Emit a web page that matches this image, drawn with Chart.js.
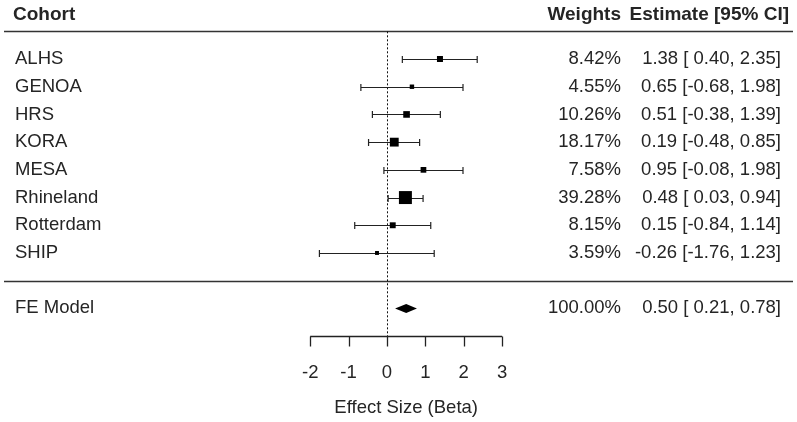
<!DOCTYPE html>
<html>
<head>
<meta charset="utf-8">
<script src="https://cdn.jsdelivr.net/npm/chart.js@4.4.1/dist/chart.umd.min.js"></script>
<style>
  html, body { margin: 0; padding: 0; background: #fff; }
  canvas { display: block; }
</style>
</head>
<body>
<canvas id="forest" width="797" height="422"></canvas>
<script>
// cohort data, top to bottom
const cohorts = ['ALHS', 'GENOA', 'HRS', 'KORA', 'MESA', 'Rhineland', 'Rotterdam', 'SHIP'];
const weights = [8.42, 4.55, 10.26, 18.17, 7.58, 39.28, 8.15, 3.59];
const estimates = [1.38, 0.65, 0.51, 0.19, 0.95, 0.48, 0.15, -0.26];
const ciLower = [0.40, -0.68, -0.38, -0.48, -0.08, 0.03, -0.84, -1.76];
const ciUpper = [2.35, 1.98, 1.39, 0.85, 1.98, 0.94, 1.14, 1.23];

// pooled fixed-effect model
const modelLabel = 'FE Model';
const modelWeight = 100.00;
const modelEstimate = 0.50;
const modelLower = 0.21;
const modelUpper = 0.78;

const xTicks = [-2, -1, 0, 1, 2, 3];
const xTitle = 'Effect Size (Beta)';

// rows: first cohort at k, last at 1, model at -1
const k = cohorts.length;
const rows = cohorts.map((c, i) => k - i);
const modelRow = -1;
const headerRow = k + 1;
const axisRow = -2;

const FONT = '"Liberation Sans", Arial, sans-serif';
const INK = '#252525';

function fmt(v) {
    const s = v.toFixed(2);
    return v < 0 ? s : ' ' + s;
}
function estText(e, lo, hi) {
    return e.toFixed(2) + ' [' + fmt(lo) + ', ' + hi.toFixed(2) + ']';
}

// square size grows with sqrt(weight)
const sides = weights.map(w => 2.07 * Math.sqrt(w));

const forestPlugin = {
    id: 'forest',
    beforeDatasetsDraw(chart) {
        const ctx = chart.ctx;
        const xs = chart.scales.x, ys = chart.scales.y;
        const X = v => xs.getPixelForValue(v);
        const Y = v => ys.getPixelForValue(v);
        ctx.save();

        // header and separator lines
        ctx.strokeStyle = '#333';
        ctx.lineWidth = 1.4;
        [headerRow, 0].forEach(r => {
            ctx.beginPath();
            ctx.moveTo(4, Math.round(Y(r)) + 0.5);
            ctx.lineTo(793, Math.round(Y(r)) + 0.5);
            ctx.stroke();
        });

        // reference line at zero
        ctx.strokeStyle = '#111';
        ctx.lineWidth = 1;
        ctx.setLineDash([2, 2]);
        ctx.beginPath();
        ctx.moveTo(Math.round(X(0)) + 0.5, Y(headerRow));
        ctx.lineTo(Math.round(X(0)) + 0.5, Y(axisRow));
        ctx.stroke();
        ctx.setLineDash([]);

        // confidence intervals
        ctx.strokeStyle = '#222';
        ctx.lineWidth = 1.2;
        rows.forEach((r, i) => {
            const y = Math.round(Y(r)) + 0.5;
            const x1 = X(ciLower[i]), x2 = X(ciUpper[i]);
            ctx.beginPath();
            ctx.moveTo(x1, y); ctx.lineTo(x2, y);
            ctx.moveTo(x1, y - 3.5); ctx.lineTo(x1, y + 3.5);
            ctx.moveTo(x2, y - 3.5); ctx.lineTo(x2, y + 3.5);
            ctx.stroke();
        });

        // pooled diamond
        const yd = Y(modelRow);
        ctx.fillStyle = '#000';
        ctx.beginPath();
        ctx.moveTo(X(modelLower), yd);
        ctx.lineTo(X(modelEstimate), yd - 4.5);
        ctx.lineTo(X(modelUpper), yd);
        ctx.lineTo(X(modelEstimate), yd + 4.5);
        ctx.closePath();
        ctx.fill();

        // x axis
        const ya = Math.round(Y(axisRow)) + 0.5;
        ctx.strokeStyle = '#222';
        ctx.lineWidth = 1.3;
        ctx.beginPath();
        ctx.moveTo(X(xTicks[0]), ya);
        ctx.lineTo(X(xTicks[xTicks.length - 1]), ya);
        xTicks.forEach(t => {
            const xt = Math.round(X(t)) + 0.5;
            ctx.moveTo(xt, ya);
            ctx.lineTo(xt, ya + 10);
        });
        ctx.stroke();

        // text
        ctx.fillStyle = INK;
        ctx.textBaseline = 'middle';
        ctx.font = 'bold 19px ' + FONT;
        ctx.textAlign = 'left';
        ctx.fillText('Cohort', 13, 15);
        ctx.textAlign = 'right';
        ctx.fillText('Weights', 621, 15);
        ctx.fillText('Estimate [95% CI]', 789, 15);

        ctx.font = '18.5px ' + FONT;
        rows.forEach((r, i) => {
            const y = Y(r);
            ctx.textAlign = 'left';
            ctx.fillText(cohorts[i], 15, y);
            ctx.textAlign = 'right';
            ctx.fillText(weights[i].toFixed(2) + '%', 621, y);
            ctx.fillText(estText(estimates[i], ciLower[i], ciUpper[i]), 781, y);
        });
        ctx.textAlign = 'left';
        ctx.fillText(modelLabel, 15, yd);
        ctx.textAlign = 'right';
        ctx.fillText(modelWeight.toFixed(2) + '%', 621, yd);
        ctx.fillText(estText(modelEstimate, modelLower, modelUpper), 781, yd);

        ctx.textAlign = 'center';
        xTicks.forEach(t => ctx.fillText(String(t), X(t), 373));
        ctx.fillText(xTitle, X((xTicks[0] + xTicks[xTicks.length - 1]) / 2), 408);

        ctx.restore();
    }
};

new Chart(document.getElementById('forest'), {
    type: 'scatter',
    data: {
        datasets: [{
            data: estimates.map((e, i) => ({ x: e, y: rows[i] })),
            pointStyle: 'rect',
            pointRadius: sides.map(s => s / Math.SQRT2),
            pointBackgroundColor: '#000',
            pointBorderWidth: 0,
            pointHoverRadius: sides.map(s => s / Math.SQRT2)
        }]
    },
    options: {
        responsive: false,
        animation: false,
        devicePixelRatio: 1,
        layout: { padding: 0, autoPadding: false },
        plugins: { legend: { display: false }, tooltip: { enabled: false } },
        scales: {
            x: { type: 'linear', display: false, min: -10.08, max: 10.68 },
            y: { type: 'linear', display: false, min: -5.1, max: 10.13 }
        }
    },
    plugins: [forestPlugin]
});
</script>
</body>
</html>
